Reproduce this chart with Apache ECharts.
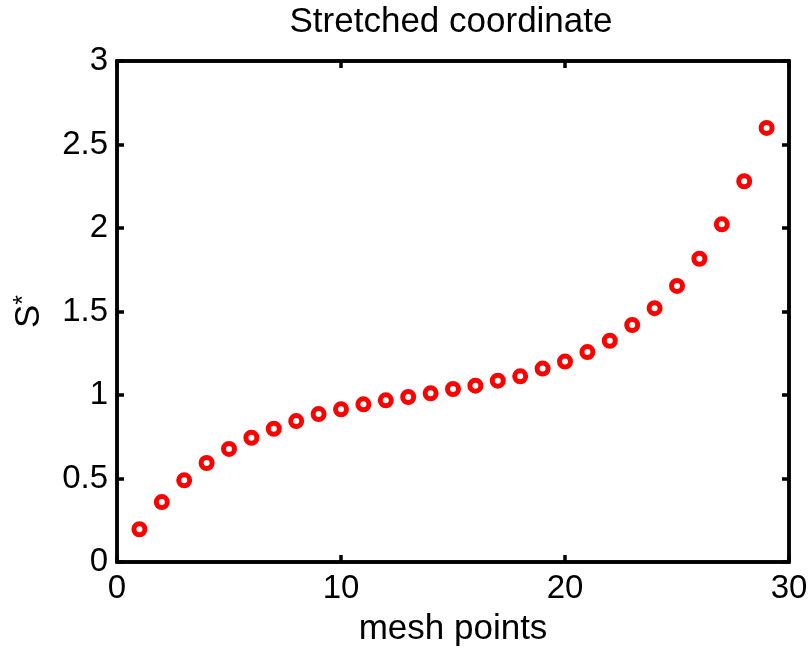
<!DOCTYPE html>
<html>
<head>
<meta charset="utf-8">
<script src="https://cdn.jsdelivr.net/npm/echarts@6/dist/echarts.min.js"></script>
<style>
  html, body { margin: 0; padding: 0; background: #fff; }
  #main { width: 811px; height: 653px; }
</style>
</head>
<body>
<div id="main"></div>
<script>
// mesh point index and stretched coordinate value
const meshPoints = [1, 2, 3, 4, 5, 6, 7, 8, 9, 10, 11, 12, 13, 14, 15,
  16, 17, 18, 19, 20, 21, 22, 23, 24, 25, 26, 27, 28, 29];
const sStar = [0.196, 0.359, 0.489, 0.593, 0.677, 0.744, 0.798, 0.844, 0.886, 0.914,
  0.944, 0.968, 0.988, 1.01, 1.036, 1.056, 1.086, 1.112, 1.158, 1.2,
  1.257, 1.325, 1.419, 1.52, 1.653, 1.816, 2.022, 2.28, 2.599];

const font = "Liberation Sans";
const chart = echarts.init(document.getElementById("main"));

const axisLine = { show: true, onZero: false, lineStyle: { color: "#000", width: 3.5 } };
const tick = { show: true, inside: true, length: 7, lineStyle: { color: "#000", width: 3.5 } };

const option = {
  animation: false,
  title: {
    text: "Stretched coordinate",
    left: 446,
    top: 0,
    textAlign: "center",
    textStyle: { fontFamily: font, fontSize: 35, fontWeight: "normal", color: "#000" },
  },
  grid: {
    left: 117, right: 22, top: 61, bottom: 91,
    outerBoundsMode: "none", containLabel: false,
    show: true, borderColor: "#000", borderWidth: 3.5,
  },
  xAxis: [
    {
      type: "value",
      min: 0,
      max: 30,
      interval: 10,
      axisLine: axisLine,
      axisTick: tick,
      splitLine: { show: false },
      axisLabel: { fontFamily: font, fontSize: 33, color: "#000", margin: 10 },
      name: "mesh points",
      nameLocation: "middle",
      nameGap: 50,
      nameTextStyle: { fontFamily: font, fontSize: 35, color: "#000" },
    },
    {
      type: "value",
      position: "top",
      min: 0,
      max: 30,
      interval: 10,
      axisLine: axisLine,
      axisTick: tick,
      splitLine: { show: false },
      axisLabel: { show: false },
    },
  ],
  yAxis: [
    {
      type: "value",
      min: 0,
      max: 3,
      interval: 0.5,
      axisLine: axisLine,
      axisTick: tick,
      splitLine: { show: false },
      axisLabel: { fontFamily: font, fontSize: 33, color: "#000", margin: 9 },
      name: "{s|S}{t|*}",
      nameLocation: "middle",
      nameRotate: 90,
      nameGap: 70,
      nameTextStyle: {
        fontFamily: font,
        color: "#000",
        rich: {
          s: { fontFamily: font, fontSize: 35, color: "#000", verticalAlign: "bottom" },
          t: { fontFamily: font, fontSize: 25, color: "#000", verticalAlign: "top" },
        },
      },
    },
    {
      type: "value",
      position: "right",
      min: 0,
      max: 3,
      interval: 0.5,
      axisLine: axisLine,
      axisTick: tick,
      splitLine: { show: false },
      axisLabel: { show: false },
    },
  ],
  series: [
    {
      type: "scatter",
      data: meshPoints.map((m, i) => [m, sStar[i]]),
      symbol: "circle",
      symbolSize: 11,
      itemStyle: { color: "rgba(0,0,0,0)", borderColor: "#ff0000", borderWidth: 5, opacity: 1 },
    },
  ],
};

chart.setOption(option);
</script>
</body>
</html>
